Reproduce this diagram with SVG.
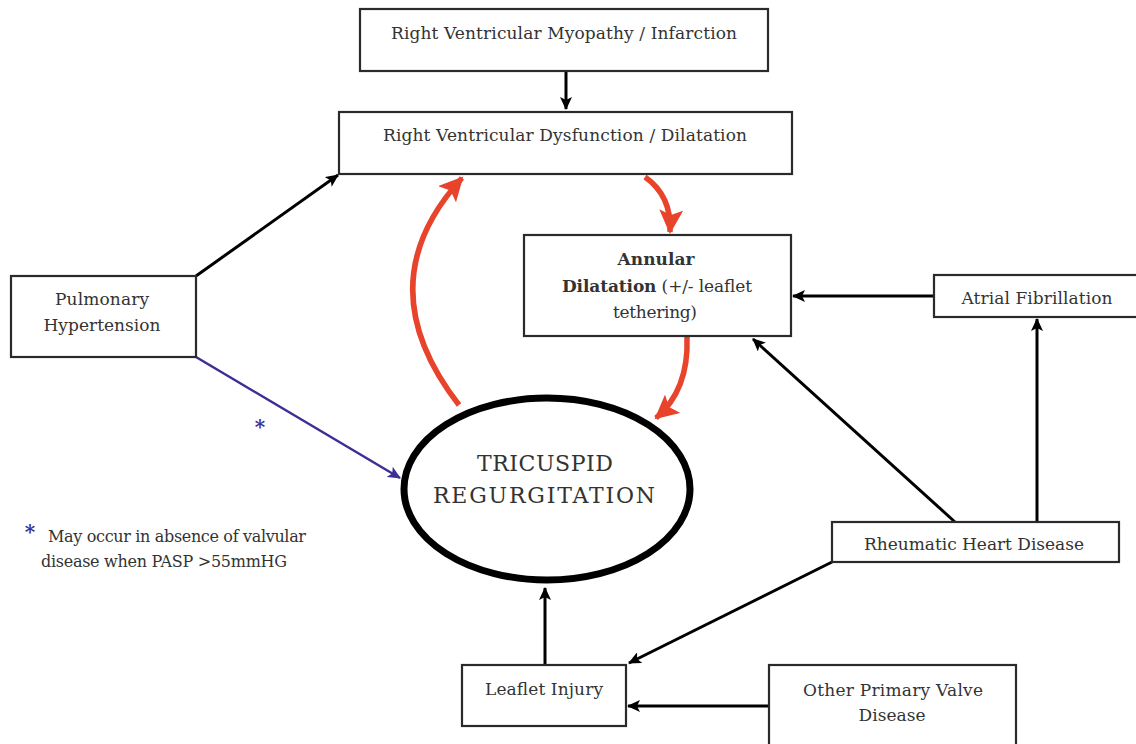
<svg xmlns="http://www.w3.org/2000/svg" width="1136" height="744" viewBox="0 0 1136 744">
<defs>
<style>
.box{fill:#fff;stroke:#2a2a2a;stroke-width:2.2}
.t{font-family:"DejaVu Serif","Liberation Serif",serif;font-size:17px;fill:#333;text-anchor:middle}
.f{font-family:"DejaVu Serif","Liberation Serif",serif;font-size:16px;fill:#333}
.b{font-weight:bold}
.blk{fill:none;stroke:#000;stroke-width:3}
.red{fill:none;stroke:#e8432b;stroke-width:5.5}
.blue{fill:none;stroke:#3b2f96;stroke-width:2.5}
.ast{font-family:"DejaVu Serif",serif;font-size:20px;fill:#3b2f96;font-weight:bold;text-anchor:middle}
</style>
<marker id="ab" markerWidth="14" markerHeight="12" refX="12" refY="6" orient="auto" markerUnits="userSpaceOnUse"><path d="M0,0 L13,6 L0,12 L3,6 z" fill="#000"/></marker>
<marker id="ar" markerWidth="26" markerHeight="24" refX="22" refY="12" orient="auto" markerUnits="userSpaceOnUse"><path d="M0,0 L24,12 L0,24 L5,12 z" fill="#e8432b"/></marker>
<marker id="au" markerWidth="14" markerHeight="12" refX="12" refY="6" orient="auto" markerUnits="userSpaceOnUse"><path d="M0,0 L13,6 L0,12 L3,6 z" fill="#3b2f96"/></marker>
</defs>
<rect width="1136" height="744" fill="#fff"/>
<g id="connectors">
<line class="blk" x1="566" y1="71" x2="566" y2="109" marker-end="url(#ab)"/>
<line class="blk" x1="196" y1="276" x2="338" y2="175" marker-end="url(#ab)"/>
<line class="blk" x1="934" y1="296" x2="793" y2="296" marker-end="url(#ab)"/>
<line class="blk" x1="1037" y1="521" x2="1037" y2="319" marker-end="url(#ab)"/>
<line class="blk" x1="955" y1="522" x2="753" y2="339" marker-end="url(#ab)"/>
<line class="blk" x1="832" y1="562" x2="629" y2="663" marker-end="url(#ab)"/>
<line class="blk" x1="545" y1="665" x2="545" y2="588" marker-end="url(#ab)"/>
<line class="blk" x1="769" y1="706" x2="628" y2="706" marker-end="url(#ab)"/>
<line class="blue" x1="196" y1="357" x2="400" y2="478" marker-end="url(#au)"/>
<path class="red" d="M459,405 Q365,284 462,178" marker-end="url(#ar)"/>
<path class="red" d="M645,177 Q672,196 670,232" marker-end="url(#ar)"/>
<path class="red" d="M687,337 Q689,390 656,418" marker-end="url(#ar)"/>
</g>
<g id="rv-myopathy">
<rect class="box" x="360" y="9" width="408" height="62"/>
<text class="t" x="564" y="39" textLength="346">Right Ventricular Myopathy / Infarction</text>
</g>
<g id="rv-dysfunction">
<rect class="box" x="339" y="112" width="453" height="62"/>
<text class="t" x="565" y="141" textLength="364">Right Ventricular Dysfunction / Dilatation</text>
</g>
<g id="pulmonary-hypertension">
<rect class="box" x="11" y="276" width="185" height="81"/>
<text class="t" x="102" y="305" textLength="94">Pulmonary</text>
<text class="t" x="102" y="331" textLength="117">Hypertension</text>
</g>
<g id="annular-dilatation">
<rect class="box" x="524" y="235" width="267" height="101"/>
<text class="t b" x="656" y="265" textLength="77">Annular</text>
<text class="t" x="657" y="292" textLength="190"><tspan class="b">Dilatation</tspan> (+/- leaflet</text>
<text class="t" x="655" y="318" textLength="84">tethering)</text>
</g>
<g id="atrial-fibrillation">
<rect class="box" x="934" y="275" width="204" height="42"/>
<text class="t" x="1037" y="304" textLength="151">Atrial Fibrillation</text>
</g>
<g id="tricuspid-regurgitation">
<ellipse cx="547" cy="489" rx="143" ry="91" fill="#fff" stroke="#000" stroke-width="7"/>
<text class="t" x="545" y="471" textLength="136" style="font-size:22px">TRICUSPID</text>
<text class="t" x="544" y="503" textLength="222" style="font-size:22px">REGURGITATION</text>
</g>
<g id="rheumatic-heart-disease">
<rect class="box" x="832" y="522" width="287" height="40"/>
<text class="t" x="974" y="550" textLength="220">Rheumatic Heart Disease</text>
</g>
<g id="leaflet-injury">
<rect class="box" x="462" y="665" width="164" height="61"/>
<text class="t" x="544" y="695" textLength="118">Leaflet Injury</text>
</g>
<g id="other-primary-valve-disease">
<rect class="box" x="769" y="665" width="247" height="90"/>
<text class="t" x="893" y="696" textLength="180">Other Primary Valve</text>
<text class="t" x="892" y="721" textLength="67">Disease</text>
</g>
<g id="footnote">
<text class="ast" x="260" y="434">*</text>
<text class="ast" x="30" y="539">*</text>
<text class="f" x="48" y="542" textLength="258">May occur in absence of valvular</text>
<text class="f" x="41" y="567" textLength="246">disease when PASP &gt;55mmHG</text>
</g>
</svg>
